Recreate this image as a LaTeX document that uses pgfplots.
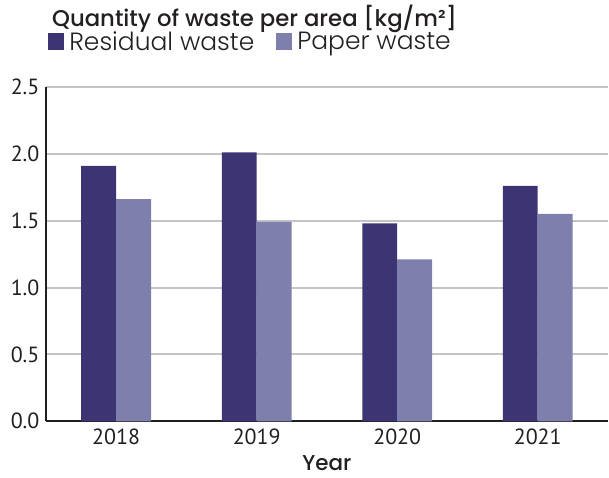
\documentclass[border=0pt]{standalone}
\usepackage{pgfplots}
\pgfplotsset{compat=1.18}
\usepackage{fontspec}
\setmainfont{PT Sans}
\newfontfamily\titlefont{Poppins}[UprightFont=* Medium]
\newfontfamily\legfont{Poppins}[UprightFont=* Light]
\definecolor{resid}{HTML}{3D3474}
\definecolor{paper}{HTML}{7F7FAD}
\definecolor{gridc}{HTML}{C4C4C8}
\definecolor{axc}{HTML}{231F20}
\begin{document}
\begin{tikzpicture}[x=1pt,y=1pt]
\path (0,0) rectangle (609,478);
\node[anchor=base west,inner sep=0pt,font=\titlefont\fontsize{22.8}{26}\selectfont,text=axc] at (52,451) {Quantity of waste per area [kg/m²]};
\begin{axis}[
  at={(46pt,56pt)}, anchor=south west,
  scale only axis, width=563pt, height=335pt,
  ybar=0pt, bar width=35pt,
  xmin=-0.5, xmax=3.5, ymin=0, ymax=2.5,
  xtick={0,1,2,3}, xticklabels={2018,2019,2020,2021},
  ytick={0,0.5,1,1.5,2,2.5},
  major tick length=0pt,
  ymajorgrids, major grid style={gridc, line width=2pt},
  axis x line*=bottom, axis y line*=left,
  axis line style={axc, line width=2pt, -},
  tick label style={font=\fontsize{22}{24}\selectfont, text=axc},
  /pgf/number format/fixed, /pgf/number format/fixed zerofill,
  /pgf/number format/precision=1, /pgf/number format/assume math mode=true,
  xticklabel style={yshift=-4pt},
  yticklabel style={xshift=-3pt},
  xlabel={Year}, xlabel style={font=\titlefont\fontsize{21.5}{24}\selectfont, text=axc, yshift=-6pt, inner sep=1pt},
  legend style={at={(rel axis cs:0.004,1.135)}, anchor=west, draw=none, fill=none, inner sep=0pt,
    font=\legfont\fontsize{25}{26}\selectfont, text=axc, legend columns=2,
    /tikz/every odd column/.append style={column sep=3pt},
    /tikz/every even column/.append style={column sep=20pt}},
  legend image code/.code={\fill[#1] (0pt,-8.5pt) rectangle (16pt,8.5pt);},
]
\addplot[fill=resid, draw=none] coordinates {(0,1.91) (1,2.01) (2,1.48) (3,1.76)};
\addplot[fill=paper, draw=none] coordinates {(0,1.66) (1,1.49) (2,1.21) (3,1.55)};
\legend{Residual waste, Paper waste}
\end{axis}
\end{tikzpicture}
\end{document}
